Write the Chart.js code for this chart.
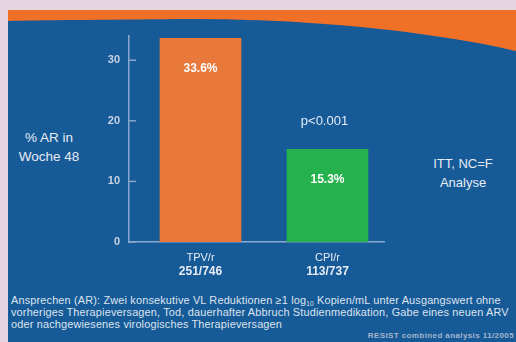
<!DOCTYPE html>
<html>
<head>
<meta charset="utf-8">
<script src="https://cdn.jsdelivr.net/npm/chart.js@4"></script>
<style>
  body { margin: 0; width: 516px; height: 342px; background: #e5d5e1; position: relative; overflow: hidden;
         font-family: "Liberation Sans", Arial, sans-serif; }
  #panel { position: absolute; left: 8px; top: 10px; width: 508px; height: 332px; background: #175a98; }
  svg, canvas { position: absolute; left: 0; top: 0; }
  .t { position: absolute; color: #e6ecf4; text-align: center; }
  #note { position: absolute; left: 11px; top: 294px; width: 506px; font-size: 10.9px; line-height: 12px;
          letter-spacing: 0.17px; color: #dde4ee; white-space: nowrap; }
  #note sub { font-size: 6.5px; line-height: 0; vertical-align: -2px; }
  #src { position: absolute; right: 2px; top: 331px; font-size: 8px; letter-spacing: 0.4px; font-weight: bold; color: #a6b5cc; }
</style>
</head>
<body>
<div id="panel"></div>
<svg width="516" height="342">
  <path d="M8,10 H516 V51 C430,31 300,18 180,19 C100,20 40,20 8,21 Z" fill="#f07028"/>
</svg>
<div class="t" style="left:8px;top:128px;width:82px;font-size:13.5px;line-height:19px;">% AR in<br>Woche 48</div>
<div class="t" style="left:418px;top:154px;width:90px;font-size:13px;line-height:19px;">ITT, NC=F<br>Analyse</div>
<div id="note">Ansprechen (AR): Zwei konsekutive VL Reduktionen ≥1 log<sub>10</sub> Kopien/mL unter Ausgangswert ohne<br>vorheriges Therapieversagen, Tod, dauerhafter Abbruch Studienmedikation, Gabe eines neuen ARV<br>oder nachgewiesenes virologisches Therapieversagen</div>
<div id="src">RESIST combined analysis 11/2005</div>
<canvas id="chart" width="516" height="342"></canvas>
<script>
const categories = ['TPV/r', 'CPI/r'];
const patientCounts = ['251/746', '113/737'];
const responseRates = [33.6, 15.3];
const barColors = ['#e8793a', '#25b24c'];
const yTicks = [0, 10, 20, 30];
const pValue = 'p<0.001';

const axisColor = '#8ba7cc';
const textColor = '#e6ecf4';
const font = '"Liberation Sans", Arial, sans-serif';

const labelPlugin = {
  id: 'labels',
  afterDatasetsDraw(chart) {
    const ctx = chart.ctx;
    const meta = chart.getDatasetMeta(0);
    const xScale = chart.scales.x;
    const yScale = chart.scales.y;
    ctx.save();
    ctx.textAlign = 'center';
    ctx.textBaseline = 'middle';
    // values inside the bars
    meta.data.forEach((bar, i) => {
      ctx.fillStyle = '#ffffff';
      ctx.font = 'bold 12px ' + font;
      ctx.fillText(responseRates[i].toFixed(1) + '%', bar.x, bar.y + 30);
    });
    // p value above the comparator bar
    const last = meta.data[meta.data.length - 1];
    ctx.font = '13px ' + font;
    ctx.fillStyle = textColor;
    ctx.fillText(pValue, last.x - 3, last.y - 28);
    // category labels
    categories.forEach((c, i) => {
      const x = xScale.getPixelForValue(i);
      ctx.font = '11px ' + font;
      ctx.fillStyle = textColor;
      ctx.fillText(c, x, yScale.bottom + 16);
      ctx.font = 'bold 12px ' + font;
      ctx.fillText(patientCounts[i], x, yScale.bottom + 30);
    });
    // tick marks pointing inward
    ctx.strokeStyle = axisColor;
    ctx.lineWidth = 1.5;
    yTicks.forEach(v => {
      const y = yScale.getPixelForValue(v);
      ctx.beginPath();
      ctx.moveTo(yScale.right, y);
      ctx.lineTo(yScale.right + 7, y);
      ctx.stroke();
    });
    ctx.restore();
  }
};

new Chart(document.getElementById('chart'), {
  type: 'bar',
  data: {
    datasets: [{
      data: responseRates.map((v, i) => ({ x: i, y: v })),
      backgroundColor: barColors,
      barThickness: 81,
      borderWidth: 0
    }]
  },
  options: {
    responsive: false,
    animation: false,
    layout: { padding: { top: 36, right: 132, left: 0, bottom: 0 } },
    plugins: { legend: { display: false }, tooltip: { enabled: false } },
    scales: {
      x: {
        type: 'linear',
        offset: false,
        min: -0.563,
        max: 1.445,
        grid: { display: false, offset: false },
        border: { display: true, color: axisColor, width: 1.5 },
        ticks: { display: false },
        afterFit(scale) { scale.height = 100; }
      },
      y: {
        min: 0,
        max: 34,
        grid: { display: false, drawTicks: false },
        border: { display: true, color: axisColor, width: 1.5 },
        ticks: { color: '#c8d2e2', font: { family: font, size: 11, weight: 'bold' }, padding: 9 },
        afterBuildTicks(scale) { scale.ticks = yTicks.map(v => ({ value: v })); },
        afterFit(scale) { scale.width = 129; }
      }
    }
  },
  plugins: [labelPlugin]
});
</script>
</body>
</html>
